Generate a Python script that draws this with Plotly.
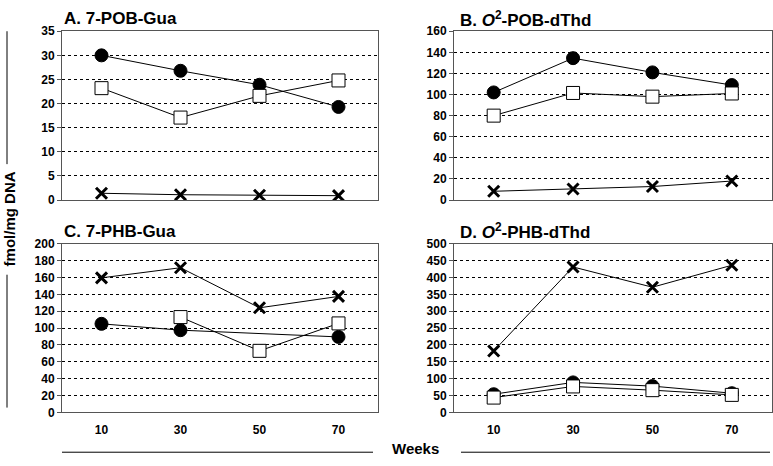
import plotly.graph_objects as go

weeks = ["10", "30", "50", "70"]

# Panel A: 7-POB-Gua
A_circle = [30.0, 26.8, 23.9, 19.3]
A_square = [23.2, 17.1, 21.6, 24.8]
A_cross = [1.4, 1.1, 1.0, 0.9]
# Panel B: O2-POB-dThd
B_circle = [102, 134.5, 121, 109]
B_square = [80, 101.5, 98, 101]
B_cross = [8.3, 10.5, 12.8, 18]
# Panel C: 7-PHB-Gua
C_circle = [105, 97.5, None, 89.5]
C_square = [None, 113, 73, 105.5]
C_cross = [159.5, 171.5, 124, 137.5]
# Panel D: O2-PHB-dThd
D_circle = [54, 89, 78, 57]
D_square = [44, 77, 66, 52]
D_cross = [182, 431, 371, 436]

titles = ["A. 7-POB-Gua", "B. <i>O</i><sup>2</sup>-POB-dThd",
          "C. 7-PHB-Gua", "D. <i>O</i><sup>2</sup>-PHB-dThd"]
y_max = [35, 160, 200, 500]
y_step = [5, 20, 20, 50]

W, H = 773, 466
FONT = "Liberation Sans"

# pixel boxes of plot areas (left, right, top, bottom)
boxes = [(62, 378, 25, 199), (454, 771.5, 25, 199),
         (62, 378, 244, 418), (454, 771.5, 244, 418)]

panels = [(A_circle, A_square, A_cross), (B_circle, B_square, B_cross),
          (C_circle, C_square, C_cross), (D_circle, D_square, D_cross)]

fig = go.Figure()
layout = dict(width=W, height=H, margin=dict(l=0, r=0, t=0, b=0),
              paper_bgcolor="white", plot_bgcolor="white", showlegend=False,
              font=dict(family=FONT, color="black"))
annotations = []
shapes = []

for i, ((c, s, x), box) in enumerate(zip(panels, boxes)):
    n = i + 1
    xa = "x" if n == 1 else f"x{n}"
    ya = "y" if n == 1 else f"y{n}"
    l, r, t, b = box
    xkey = "xaxis" if n == 1 else f"xaxis{n}"
    ykey = "yaxis" if n == 1 else f"yaxis{n}"
    bottom = i >= 2
    xa_dict = dict(domain=[l / W, r / W], anchor=ya, type="category",
                   range=[-0.5, 3.5], showgrid=False, zeroline=False,
                   showline=True, linecolor="#555", linewidth=1, mirror=True,
                   ticks="", showticklabels=bottom, fixedrange=True)
    if bottom:
        xa_dict.update(ticklabelstandoff=6,
                       tickfont=dict(family=FONT, size=12, color="black", weight="bold"))
    layout[xkey] = xa_dict
    layout[ykey] = dict(domain=[1 - b / H, 1 - t / H], anchor=xa,
                        range=[0, y_max[i]], dtick=y_step[i], tick0=0,
                        showgrid=True, gridcolor="black", gridwidth=1, griddash="3px,3px",
                        zeroline=False, showline=True, linecolor="#555", linewidth=1,
                        mirror=True, ticks="outside", ticklen=4, tickcolor="#555",
                        tickfont=dict(family=FONT, size=12, color="black", weight="bold"),
                        fixedrange=True)
    common = dict(xaxis=xa, yaxis=ya, mode="lines+markers", connectgaps=True,
                  line=dict(color="black", width=1), hoverinfo="skip")
    fig.add_trace(go.Scatter(x=weeks, y=c, marker=dict(symbol="circle", size=13, color="black",
                                                      line=dict(color="black", width=1)), **common))
    fig.add_trace(go.Scatter(x=weeks, y=s, marker=dict(symbol="square", size=13, color="white",
                                                      line=dict(color="black", width=1)), **common))
    fig.add_trace(go.Scatter(x=weeks, y=x, marker=dict(symbol="x-thin-open", size=11, color="black",
                                                      line=dict(color="black", width=3)), **common))
    annotations.append(dict(text=f"<b>{titles[i]}</b>", xref="paper", yref="paper",
                            x=(l + (0 if i % 2 == 0 else 4)) / W, y=1 - (t - 13) / H,
                            xanchor="left", yanchor="middle", showarrow=False,
                            font=dict(family=FONT, size=17, color="black")))

# y-axis title with interrupting lines
annotations.append(dict(text="<b>fmol/mg DNA</b>", xref="paper", yref="paper",
                        x=9 / W, y=1 - 219 / H, textangle=-90, showarrow=False,
                        xanchor="center", yanchor="middle",
                        font=dict(family=FONT, size=15, color="black")))
shapes.append(dict(type="line", xref="paper", yref="paper", x0=7 / W, x1=7 / W,
                   y0=1 - 25 / H, y1=1 - 162 / H, line=dict(color="black", width=1)))
shapes.append(dict(type="line", xref="paper", yref="paper", x0=7 / W, x1=7 / W,
                   y0=1 - 276 / H, y1=1 - 413 / H, line=dict(color="black", width=1)))
# x-axis title with lines
annotations.append(dict(text="<b>Weeks</b>", xref="paper", yref="paper",
                        x=415 / W, y=1 - 455 / H, showarrow=False,
                        xanchor="center", yanchor="middle",
                        font=dict(family=FONT, size=15, color="black")))
shapes.append(dict(type="line", xref="paper", yref="paper", x0=62 / W, x1=373 / W,
                   y0=1 - 459 / H, y1=1 - 459 / H, line=dict(color="black", width=1)))
shapes.append(dict(type="line", xref="paper", yref="paper", x0=461 / W, x1=770 / W,
                   y0=1 - 459 / H, y1=1 - 459 / H, line=dict(color="black", width=1)))

layout["annotations"] = annotations
layout["shapes"] = shapes
fig.update_layout(**layout)
fig.write_html("out.html", config={"displayModeBar": False, "staticPlot": True},
               post_script="document.body.style.margin='0';document.body.style.overflow='hidden';")
